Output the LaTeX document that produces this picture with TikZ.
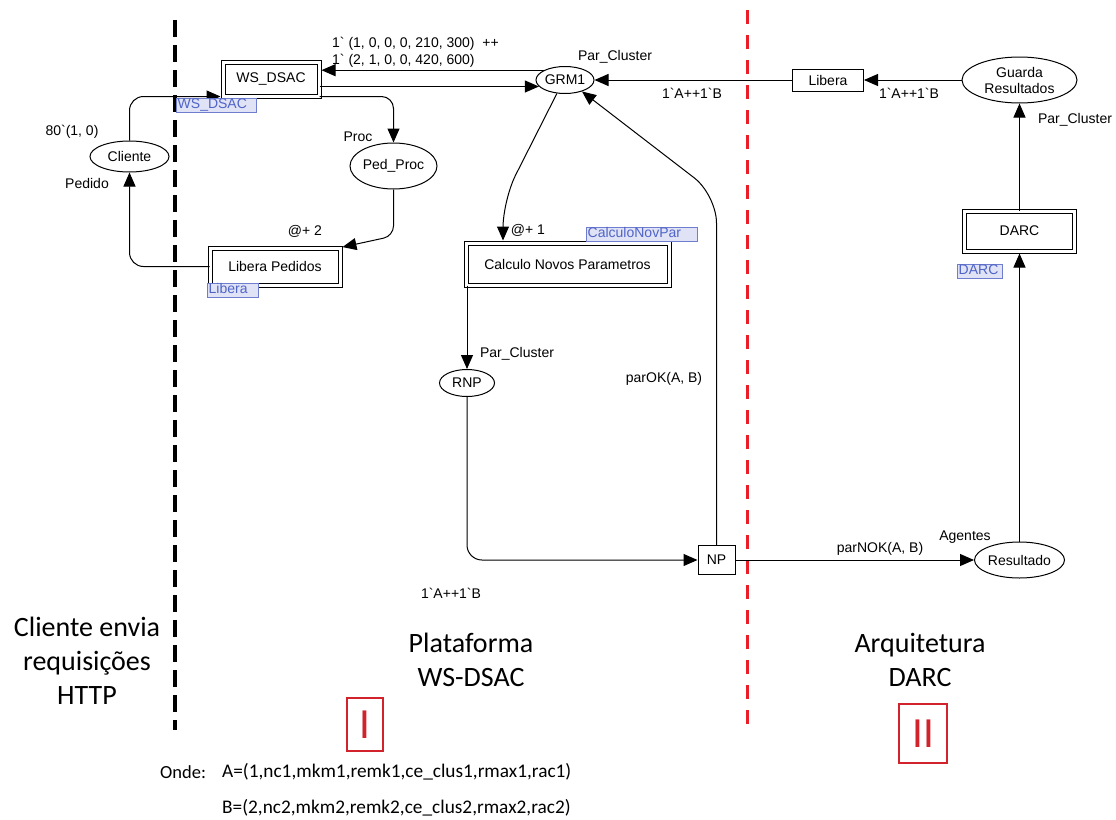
\documentclass[tikz,border=0pt]{standalone}
\usepackage{fontspec}
\setmainfont{Liberation Sans}
\newfontfamily\calib{Carlito}
\usetikzlibrary{shapes.geometric,arrows.meta}
\definecolor{tagb}{RGB}{110,125,205}
\definecolor{tagf}{RGB}{224,227,245}
\definecolor{tagt}{RGB}{80,100,200}
\definecolor{sepred}{RGB}{235,30,40}
\definecolor{boxred}{RGB}{210,35,45}
\newcommand\bqt{\textasciigrave}
\begin{document}
\begin{tikzpicture}[x=1pt,y=-1pt,
  lbl/.style={font=\fontsize{14}{16}\selectfont, inner sep=0pt},
  place/.style={ellipse, draw, line width=1pt, inner sep=0pt, font=\fontsize{14}{16}\selectfont, align=center},
  trans/.style={rectangle, draw, line width=1pt, inner sep=0pt, font=\fontsize{14}{16}\selectfont},
  dbox/.style={rectangle, draw, double, double distance=3pt, line width=1pt, inner sep=0pt, font=\fontsize{14}{16}\selectfont},
  tag/.style={draw=tagb, fill=tagf, text=tagt, anchor=north west, inner xsep=1.5pt, inner ysep=0.5pt,
    text height=10pt, text depth=3pt, align=left, font=\fontsize{14}{16}\selectfont},
  arr/.style={line width=1pt, -{Triangle[length=14pt,width=12pt]}},
  big/.style={font=\calib\fontsize{28}{34}\selectfont, align=center, inner sep=0pt},
  note/.style={font=\calib\fontsize{19.3}{22}\selectfont, inner sep=0pt, anchor=west},
  roman/.style={draw=boxred, line width=1.5pt, text=boxred, font=\calib\fontsize{43}{43}\selectfont, inner sep=0pt}
]
\useasboundingbox (0,0) rectangle (1116,819);

% separators
\draw[line width=3.5pt, dash pattern=on 17pt off 8pt] (175,20) -- (175,730);
\draw[sepred, line width=3pt, dash pattern=on 14pt off 11pt] (747,10) -- (747,735);

% nodes
\node[dbox, minimum width=96pt, minimum height=34pt] (ws) at (271,79) {WS\_DSAC};
\node[place, minimum width=79pt, minimum height=31pt] (cl) at (129.5,156.5) {Cliente};
\node[place, minimum width=87pt, minimum height=46pt] (pp) at (393.5,166) {Ped\_Proc};
\node[dbox, minimum width=130pt, minimum height=37pt] (lp) at (275,266.5) {Libera Pedidos};
\node[place, minimum width=58pt, minimum height=27pt] (grm) at (565,80) {GRM1};
\node[dbox, minimum width=203pt, minimum height=42pt] (calc) at (567.5,264) {Calculo Novos Parametros};
\node[place, minimum width=55pt, minimum height=27pt] (rnp) at (467,383) {RNP};
\node[trans, minimum width=37pt, minimum height=29pt] (np) at (716.5,560) {NP};
\node[place, minimum width=90pt, minimum height=36pt] (res) at (1019.5,560) {Resultado};
\node[dbox, minimum width=110pt, minimum height=40pt] (darc) at (1019.5,231) {DARC};
\node[place, minimum width=115pt, minimum height=46pt] (gr) at (1019.5,80) {Guarda\\Resultados};
\node[trans, minimum width=71pt, minimum height=22pt] (lib) at (828,80) {Libera};

\coordinate (c1) at (503,200);
\coordinate (c2) at (716.5,195);
\coordinate (c3) at (393.5,236);

% connectors
\draw[arr, shorten >=2pt] (grm.155) -- (grm.155 -| ws.east);
\draw[arr] (ws.east |- grm.194) -- (grm.194);
\draw[arr, rounded corners=12pt] (ws.south east) -| (pp.north);
\draw[arr, rounded corners=10pt, shorten >=2pt] (pp.south) -- (c3) -- (lp.north east);
\draw[arr, rounded corners=14pt] (lp.west) -| (cl.south);
\draw[arr, rounded corners=14pt, shorten >=2pt] (cl.north) |- (ws.south west);
\draw[arr, rounded corners=28pt, shorten >=2pt] (grm.-121) -- (c1) -- (c1 |- calc.north);
\draw[arr] (rnp.north |- calc.south) -- (rnp.north);
\draw[arr, rounded corners=15pt] (rnp.south) |- (np.west);
\draw[arr, rounded corners=28pt] (np.north) -- (c2) -- (grm.-34);
\draw[arr] (np.east) -- (res.west);
\draw[arr, shorten >=2pt] (res.north) -- (darc.south);
\draw[arr] (darc.north) -- (gr.south);
\draw[arr] (gr.west) -- (lib.east);
\draw[arr] (lib.west) -- (grm.east);

% tags
\node[tag, text width=77pt] (tws) at (176,98) {WS\_DSAC};
\node[tag, text width=48pt] (tlib) at (207,283) {Libera};
\node[tag, text width=108pt] (tcalc) at (586,227) {CalculoNovPar};
\node[tag, text width=42pt] (tdarc) at (957,264) {DARC};

% arc labels
\node[lbl, anchor=west] (l1) at (332,44) {1\bqt{} (1, 0, 0, 0, 210, 300)\ \ ++};
\node[lbl, anchor=west] (l2) at (332,61) {1\bqt{} (2, 1, 0, 0, 420, 600)};
\node[lbl] (l3) at (615,57) {Par\_Cluster};
\node[lbl] (l4) at (692,93) {1\bqt{}A++1\bqt{}B};
\node[lbl] (l5) at (909,93) {1\bqt{}A++1\bqt{}B};
\node[lbl] (l6) at (1075,120) {Par\_Cluster};
\node[lbl] (l7) at (358,137) {Proc};
\node[lbl] (l8) at (305,231) {@+ 2};
\node[lbl] (l9) at (72,132) {80\bqt{}(1, 0)};
\node[lbl] (l10) at (87,183) {Pedido};
\node[lbl] (l11) at (528,230) {@+ 1};
\node[lbl] (l12) at (517,354) {Par\_Cluster};
\node[lbl] (l13) at (664,379) {parOK(A, B)};
\node[lbl] (l14) at (451,593) {1\bqt{}A++1\bqt{}B};
\node[lbl] (l15) at (880,549) {parNOK(A, B)};
\node[lbl] (l16) at (965,537) {Agentes};

% region titles
\node[big] (t1) at (87,661) {Cliente envia\\requisições\\HTTP};
\node[big] (t2) at (471,660) {Plataforma\\WS-DSAC};
\node[big] (t3) at (920,660) {Arquitetura\\DARC};
\node[roman, minimum width=36pt, minimum height=53pt] (r1) at (365,724.5) {I};
\node[roman, minimum width=48pt, minimum height=59pt] (r2) at (923,733.5) {II};

% notes
\node[note, font=\calib\fontsize{18.5}{22}\selectfont] (n0) at (160,772) {Onde:};
\node[note] (n1) at (222,772) {A=(1,nc1,mkm1,remk1,ce\_clus1,rmax1,rac1)};
\node[note] (n2) at (222,808) {B=(2,nc2,mkm2,remk2,ce\_clus2,rmax2,rac2)};
\end{tikzpicture}
\end{document}
